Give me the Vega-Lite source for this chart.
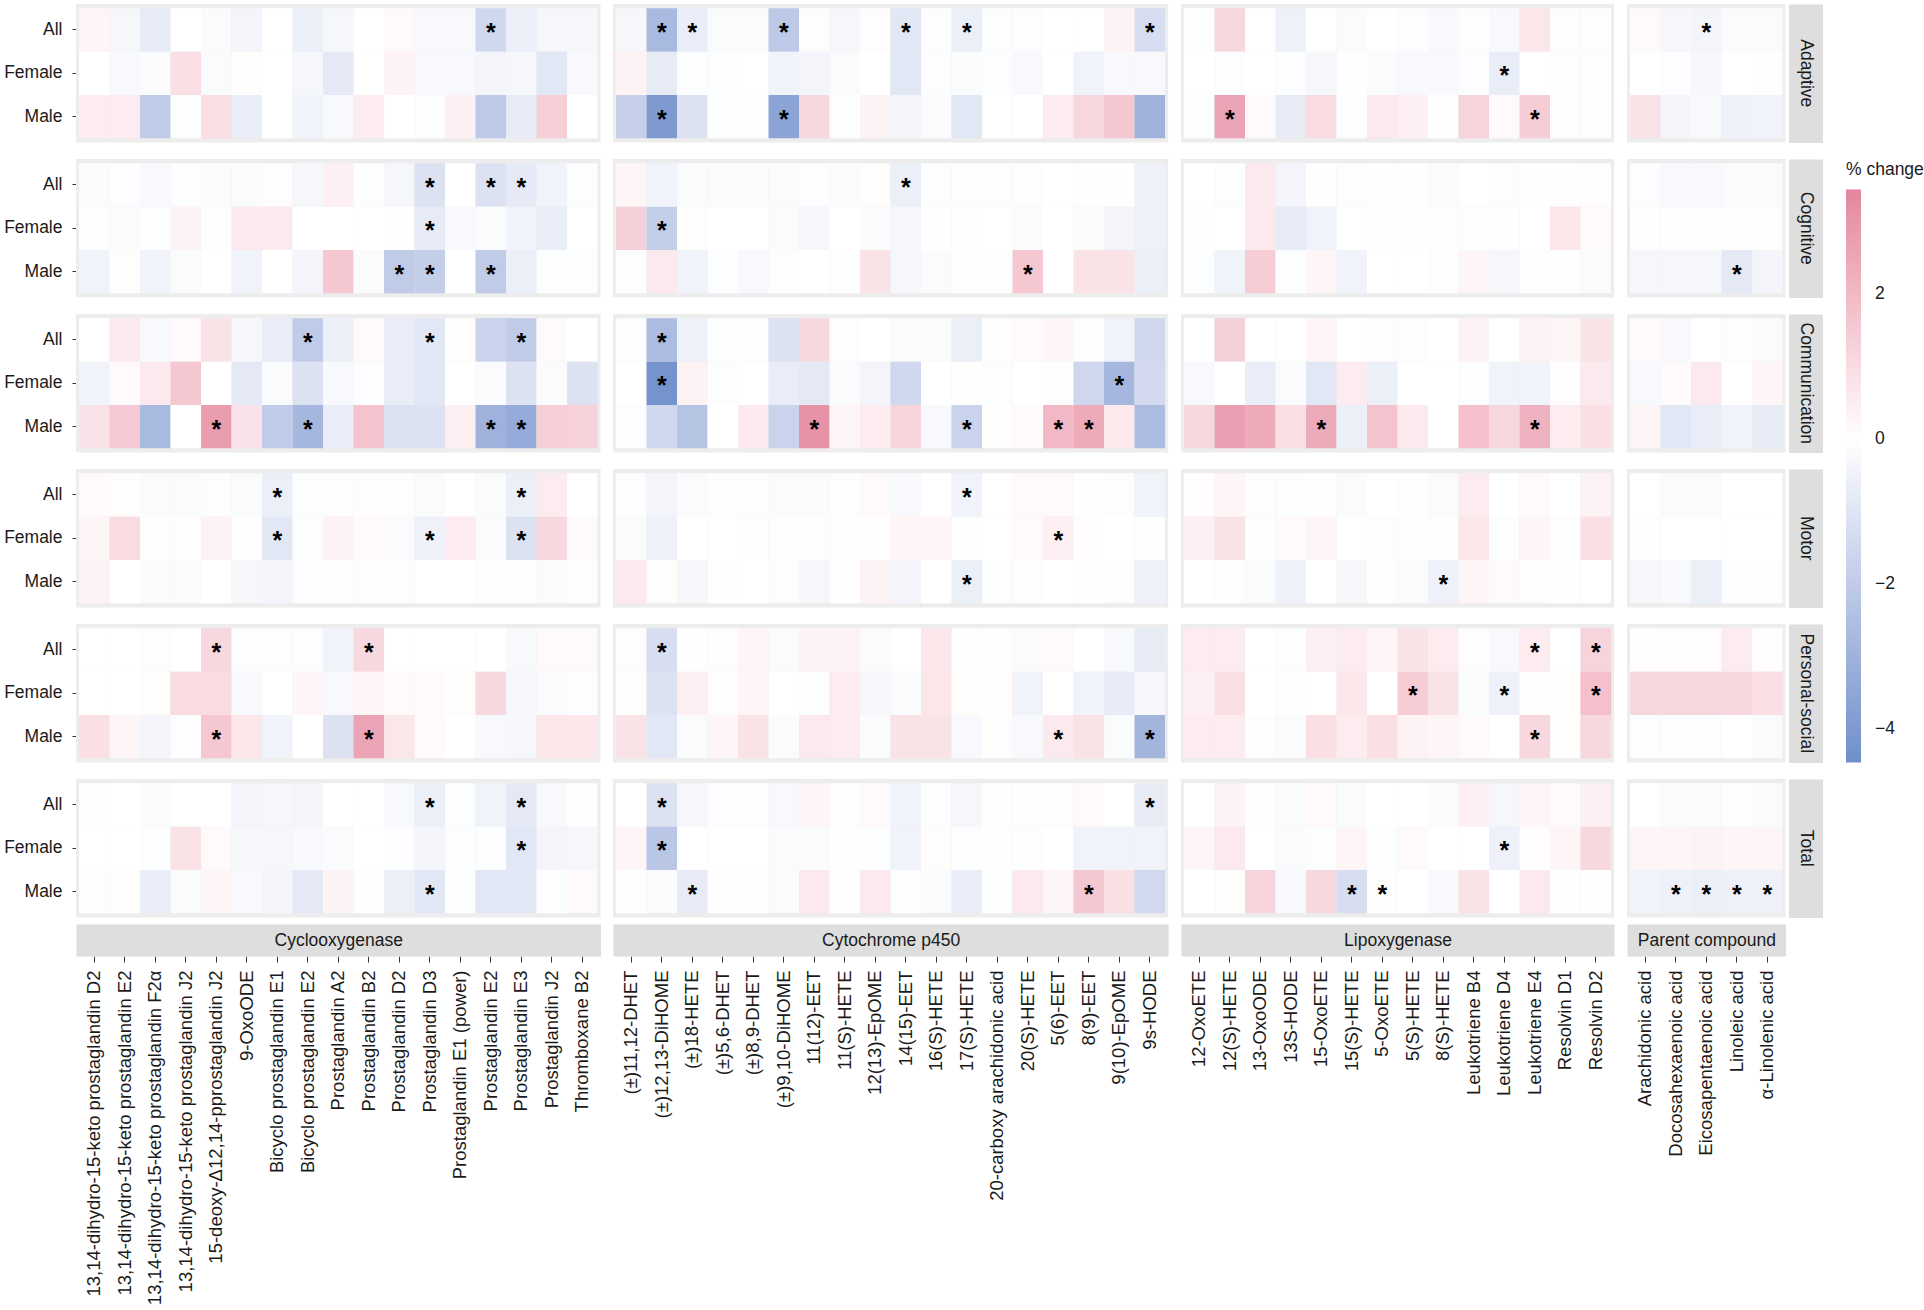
{
"$schema":"https://vega.github.io/schema/vega-lite/v6.json",
"background":"#ffffff",
"padding":{"left":3,"top":4,"right":0,"bottom":0},
"config":{"font":"Liberation Sans","view":{"fill":"#ededed","stroke":null},"axis":{"labelFont":"Liberation Sans","labelColor":"#1a1a1a","titleFont":"Liberation Sans"},"header":{"labelFont":"Liberation Sans","labelColor":"#1a1a1a"},"legend":{"labelFont":"Liberation Sans","titleFont":"Liberation Sans"}},
"datasets":{
"mets":[
{"k":0,"m":"13,14-dihydro-15-keto prostaglandin D2","p":"Cyclooxygenase"},
{"k":1,"m":"13,14-dihydro-15-keto prostaglandin E2","p":"Cyclooxygenase"},
{"k":2,"m":"13,14-dihydro-15-keto prostaglandin F2α","p":"Cyclooxygenase"},
{"k":3,"m":"13,14-dihydro-15-keto prostaglandin J2","p":"Cyclooxygenase"},
{"k":4,"m":"15-deoxy-Δ12,14-pprostaglandin J2","p":"Cyclooxygenase"},
{"k":5,"m":"9-OxoODE","p":"Cyclooxygenase"},
{"k":6,"m":"Bicyclo prostaglandin E1","p":"Cyclooxygenase"},
{"k":7,"m":"Bicyclo prostaglandin E2","p":"Cyclooxygenase"},
{"k":8,"m":"Prostaglandin A2","p":"Cyclooxygenase"},
{"k":9,"m":"Prostaglandin B2","p":"Cyclooxygenase"},
{"k":10,"m":"Prostaglandin D2","p":"Cyclooxygenase"},
{"k":11,"m":"Prostaglandin D3","p":"Cyclooxygenase"},
{"k":12,"m":"Prostaglandin E1 (power)","p":"Cyclooxygenase"},
{"k":13,"m":"Prostaglandin E2","p":"Cyclooxygenase"},
{"k":14,"m":"Prostaglandin E3","p":"Cyclooxygenase"},
{"k":15,"m":"Prostaglandin J2","p":"Cyclooxygenase"},
{"k":16,"m":"Thromboxane B2","p":"Cyclooxygenase"},
{"k":17,"m":"(±)11,12-DHET","p":"Cytochrome p450"},
{"k":18,"m":"(±)12,13-DiHOME","p":"Cytochrome p450"},
{"k":19,"m":"(±)18-HETE","p":"Cytochrome p450"},
{"k":20,"m":"(±)5,6-DHET","p":"Cytochrome p450"},
{"k":21,"m":"(±)8,9-DHET","p":"Cytochrome p450"},
{"k":22,"m":"(±)9,10-DiHOME","p":"Cytochrome p450"},
{"k":23,"m":"11(12)-EET","p":"Cytochrome p450"},
{"k":24,"m":"11(S)-HETE","p":"Cytochrome p450"},
{"k":25,"m":"12(13)-EpOME","p":"Cytochrome p450"},
{"k":26,"m":"14(15)-EET","p":"Cytochrome p450"},
{"k":27,"m":"16(S)-HETE","p":"Cytochrome p450"},
{"k":28,"m":"17(S)-HETE","p":"Cytochrome p450"},
{"k":29,"m":"20-carboxy arachidonic acid","p":"Cytochrome p450"},
{"k":30,"m":"20(S)-HETE","p":"Cytochrome p450"},
{"k":31,"m":"5(6)-EET","p":"Cytochrome p450"},
{"k":32,"m":"8(9)-EET","p":"Cytochrome p450"},
{"k":33,"m":"9(10)-EpOME","p":"Cytochrome p450"},
{"k":34,"m":"9s-HODE","p":"Cytochrome p450"},
{"k":35,"m":"12-OxoETE","p":"Lipoxygenase"},
{"k":36,"m":"12(S)-HETE","p":"Lipoxygenase"},
{"k":37,"m":"13-OxoODE","p":"Lipoxygenase"},
{"k":38,"m":"13S-HODE","p":"Lipoxygenase"},
{"k":39,"m":"15-OxoETE","p":"Lipoxygenase"},
{"k":40,"m":"15(S)-HETE","p":"Lipoxygenase"},
{"k":41,"m":"5-OxoETE","p":"Lipoxygenase"},
{"k":42,"m":"5(S)-HETE","p":"Lipoxygenase"},
{"k":43,"m":"8(S)-HETE","p":"Lipoxygenase"},
{"k":44,"m":"Leukotriene B4","p":"Lipoxygenase"},
{"k":45,"m":"Leukotriene D4","p":"Lipoxygenase"},
{"k":46,"m":"Leukotriene E4","p":"Lipoxygenase"},
{"k":47,"m":"Resolvin D1","p":"Lipoxygenase"},
{"k":48,"m":"Resolvin D2","p":"Lipoxygenase"},
{"k":49,"m":"Arachidonic acid","p":"Parent compound"},
{"k":50,"m":"Docosahexaenoic acid","p":"Parent compound"},
{"k":51,"m":"Eicosapentaenoic acid","p":"Parent compound"},
{"k":52,"m":"Linoleic acid","p":"Parent compound"},
{"k":53,"m":"α-Linolenic acid","p":"Parent compound"}
],
"cells":[
{"d":"Adaptive","s":"All","k":0,"v":0.27},{"d":"Adaptive","s":"All","k":1,"v":-0.31},{"d":"Adaptive","s":"All","k":2,"v":-0.78},{"d":"Adaptive","s":"All","k":3,"v":0},{"d":"Adaptive","s":"All","k":4,"v":-0.16},{"d":"Adaptive","s":"All","k":5,"v":-0.39},{"d":"Adaptive","s":"All","k":6,"v":0},{"d":"Adaptive","s":"All","k":7,"v":-0.62},{"d":"Adaptive","s":"All","k":8,"v":-0.31},{"d":"Adaptive","s":"All","k":9,"v":0},{"d":"Adaptive","s":"All","k":10,"v":0.18},{"d":"Adaptive","s":"All","k":11,"v":-0.23},{"d":"Adaptive","s":"All","k":12,"v":-0.23},{"d":"Adaptive","s":"All","k":13,"v":-1.5,"t":"*"},{"d":"Adaptive","s":"All","k":14,"v":-0.62},{"d":"Adaptive","s":"All","k":15,"v":-0.31},{"d":"Adaptive","s":"All","k":16,"v":-0.31},
{"d":"Adaptive","s":"All","k":17,"v":-0.31},{"d":"Adaptive","s":"All","k":18,"v":-2.7,"t":"*"},{"d":"Adaptive","s":"All","k":19,"v":-0.7,"t":"*"},{"d":"Adaptive","s":"All","k":20,"v":-0.16},{"d":"Adaptive","s":"All","k":21,"v":-0.16},{"d":"Adaptive","s":"All","k":22,"v":-2.1,"t":"*"},{"d":"Adaptive","s":"All","k":23,"v":0.09},{"d":"Adaptive","s":"All","k":24,"v":-0.31},{"d":"Adaptive","s":"All","k":25,"v":0.09},{"d":"Adaptive","s":"All","k":26,"v":-0.93,"t":"*"},{"d":"Adaptive","s":"All","k":27,"v":-0.08},{"d":"Adaptive","s":"All","k":28,"v":-0.62,"t":"*"},{"d":"Adaptive","s":"All","k":29,"v":-0.08},{"d":"Adaptive","s":"All","k":30,"v":-0.08},{"d":"Adaptive","s":"All","k":31,"v":0},{"d":"Adaptive","s":"All","k":32,"v":0},{"d":"Adaptive","s":"All","k":33,"v":0.36},{"d":"Adaptive","s":"All","k":34,"v":-1.25,"t":"*"},
{"d":"Adaptive","s":"All","k":35,"v":-0.03},{"d":"Adaptive","s":"All","k":36,"v":1.1},{"d":"Adaptive","s":"All","k":37,"v":0},{"d":"Adaptive","s":"All","k":38,"v":-0.54},{"d":"Adaptive","s":"All","k":39,"v":0},{"d":"Adaptive","s":"All","k":40,"v":-0.16},{"d":"Adaptive","s":"All","k":41,"v":0},{"d":"Adaptive","s":"All","k":42,"v":-0.08},{"d":"Adaptive","s":"All","k":43,"v":-0.23},{"d":"Adaptive","s":"All","k":44,"v":0.09},{"d":"Adaptive","s":"All","k":45,"v":-0.23},{"d":"Adaptive","s":"All","k":46,"v":0.72},{"d":"Adaptive","s":"All","k":47,"v":0.09},{"d":"Adaptive","s":"All","k":48,"v":0.09},
{"d":"Adaptive","s":"All","k":49,"v":0.18},{"d":"Adaptive","s":"All","k":50,"v":-0.31},{"d":"Adaptive","s":"All","k":51,"v":-0.39,"t":"*"},{"d":"Adaptive","s":"All","k":52,"v":-0.16},{"d":"Adaptive","s":"All","k":53,"v":-0.16},
{"d":"Adaptive","s":"Female","k":0,"v":0},{"d":"Adaptive","s":"Female","k":1,"v":-0.23},{"d":"Adaptive","s":"Female","k":2,"v":-0.16},{"d":"Adaptive","s":"Female","k":3,"v":0.9},{"d":"Adaptive","s":"Female","k":4,"v":-0.16},{"d":"Adaptive","s":"Female","k":5,"v":0.09},{"d":"Adaptive","s":"Female","k":6,"v":0},{"d":"Adaptive","s":"Female","k":7,"v":-0.31},{"d":"Adaptive","s":"Female","k":8,"v":-0.85},{"d":"Adaptive","s":"Female","k":9,"v":0},{"d":"Adaptive","s":"Female","k":10,"v":0.36},{"d":"Adaptive","s":"Female","k":11,"v":-0.23},{"d":"Adaptive","s":"Female","k":12,"v":-0.23},{"d":"Adaptive","s":"Female","k":13,"v":-0.39},{"d":"Adaptive","s":"Female","k":14,"v":-0.31},{"d":"Adaptive","s":"Female","k":15,"v":-0.93},{"d":"Adaptive","s":"Female","k":16,"v":-0.23},
{"d":"Adaptive","s":"Female","k":17,"v":0.36},{"d":"Adaptive","s":"Female","k":18,"v":-0.78},{"d":"Adaptive","s":"Female","k":19,"v":-0.08},{"d":"Adaptive","s":"Female","k":20,"v":-0.08},{"d":"Adaptive","s":"Female","k":21,"v":0},{"d":"Adaptive","s":"Female","k":22,"v":-0.47},{"d":"Adaptive","s":"Female","k":23,"v":-0.39},{"d":"Adaptive","s":"Female","k":24,"v":-0.16},{"d":"Adaptive","s":"Female","k":25,"v":0},{"d":"Adaptive","s":"Female","k":26,"v":-0.93},{"d":"Adaptive","s":"Female","k":27,"v":-0.08},{"d":"Adaptive","s":"Female","k":28,"v":-0.16},{"d":"Adaptive","s":"Female","k":29,"v":-0.08},{"d":"Adaptive","s":"Female","k":30,"v":-0.23},{"d":"Adaptive","s":"Female","k":31,"v":0},{"d":"Adaptive","s":"Female","k":32,"v":-0.47},{"d":"Adaptive","s":"Female","k":33,"v":-0.23},{"d":"Adaptive","s":"Female","k":34,"v":-0.23},
{"d":"Adaptive","s":"Female","k":35,"v":0},{"d":"Adaptive","s":"Female","k":36,"v":-0.08},{"d":"Adaptive","s":"Female","k":37,"v":0},{"d":"Adaptive","s":"Female","k":38,"v":-0.08},{"d":"Adaptive","s":"Female","k":39,"v":-0.31},{"d":"Adaptive","s":"Female","k":40,"v":-0.03},{"d":"Adaptive","s":"Female","k":41,"v":-0.16},{"d":"Adaptive","s":"Female","k":42,"v":-0.23},{"d":"Adaptive","s":"Female","k":43,"v":-0.23},{"d":"Adaptive","s":"Female","k":44,"v":-0.08},{"d":"Adaptive","s":"Female","k":45,"v":-0.7,"t":"*"},{"d":"Adaptive","s":"Female","k":46,"v":0},{"d":"Adaptive","s":"Female","k":47,"v":0.09},{"d":"Adaptive","s":"Female","k":48,"v":0.09},
{"d":"Adaptive","s":"Female","k":49,"v":0},{"d":"Adaptive","s":"Female","k":50,"v":-0.08},{"d":"Adaptive","s":"Female","k":51,"v":-0.31},{"d":"Adaptive","s":"Female","k":52,"v":0},{"d":"Adaptive","s":"Female","k":53,"v":0.09},
{"d":"Adaptive","s":"Male","k":0,"v":0.54},{"d":"Adaptive","s":"Male","k":1,"v":0.54},{"d":"Adaptive","s":"Male","k":2,"v":-2.0},{"d":"Adaptive","s":"Male","k":3,"v":-0.08},{"d":"Adaptive","s":"Male","k":4,"v":0.9},{"d":"Adaptive","s":"Male","k":5,"v":-0.7},{"d":"Adaptive","s":"Male","k":6,"v":0},{"d":"Adaptive","s":"Male","k":7,"v":-0.47},{"d":"Adaptive","s":"Male","k":8,"v":-0.23},{"d":"Adaptive","s":"Male","k":9,"v":0.54},{"d":"Adaptive","s":"Male","k":10,"v":0},{"d":"Adaptive","s":"Male","k":11,"v":-0.08},{"d":"Adaptive","s":"Male","k":12,"v":0.45},{"d":"Adaptive","s":"Male","k":13,"v":-2.1},{"d":"Adaptive","s":"Male","k":14,"v":-0.78},{"d":"Adaptive","s":"Male","k":15,"v":1.4},{"d":"Adaptive","s":"Male","k":16,"v":0},
{"d":"Adaptive","s":"Male","k":17,"v":-1.8},{"d":"Adaptive","s":"Male","k":18,"v":-4.0,"t":"*"},{"d":"Adaptive","s":"Male","k":19,"v":-1.1},{"d":"Adaptive","s":"Male","k":20,"v":-0.08},{"d":"Adaptive","s":"Male","k":21,"v":-0.08},{"d":"Adaptive","s":"Male","k":22,"v":-3.6,"t":"*"},{"d":"Adaptive","s":"Male","k":23,"v":1.1},{"d":"Adaptive","s":"Male","k":24,"v":-0.08},{"d":"Adaptive","s":"Male","k":25,"v":0.36},{"d":"Adaptive","s":"Male","k":26,"v":-0.39},{"d":"Adaptive","s":"Male","k":27,"v":-0.16},{"d":"Adaptive","s":"Male","k":28,"v":-0.93},{"d":"Adaptive","s":"Male","k":29,"v":0},{"d":"Adaptive","s":"Male","k":30,"v":0},{"d":"Adaptive","s":"Male","k":31,"v":0.54},{"d":"Adaptive","s":"Male","k":32,"v":1.1},{"d":"Adaptive","s":"Male","k":33,"v":1.6},{"d":"Adaptive","s":"Male","k":34,"v":-3.0},
{"d":"Adaptive","s":"Male","k":35,"v":-0.08},{"d":"Adaptive","s":"Male","k":36,"v":2.6,"t":"*"},{"d":"Adaptive","s":"Male","k":37,"v":0.18},{"d":"Adaptive","s":"Male","k":38,"v":-0.78},{"d":"Adaptive","s":"Male","k":39,"v":1.0},{"d":"Adaptive","s":"Male","k":40,"v":-0.08},{"d":"Adaptive","s":"Male","k":41,"v":0.63},{"d":"Adaptive","s":"Male","k":42,"v":0.45},{"d":"Adaptive","s":"Male","k":43,"v":-0.03},{"d":"Adaptive","s":"Male","k":44,"v":1.25},{"d":"Adaptive","s":"Male","k":45,"v":0.18},{"d":"Adaptive","s":"Male","k":46,"v":1.45,"t":"*"},{"d":"Adaptive","s":"Male","k":47,"v":0.09},{"d":"Adaptive","s":"Male","k":48,"v":-0.08},
{"d":"Adaptive","s":"Male","k":49,"v":0.81},{"d":"Adaptive","s":"Male","k":50,"v":-0.39},{"d":"Adaptive","s":"Male","k":51,"v":-0.23},{"d":"Adaptive","s":"Male","k":52,"v":-0.54},{"d":"Adaptive","s":"Male","k":53,"v":-0.47},
{"d":"Cognitive","s":"All","k":0,"v":-0.16},{"d":"Cognitive","s":"All","k":1,"v":-0.08},{"d":"Cognitive","s":"All","k":2,"v":-0.23},{"d":"Cognitive","s":"All","k":3,"v":-0.08},{"d":"Cognitive","s":"All","k":4,"v":-0.16},{"d":"Cognitive","s":"All","k":5,"v":-0.16},{"d":"Cognitive","s":"All","k":6,"v":0.09},{"d":"Cognitive","s":"All","k":7,"v":-0.31},{"d":"Cognitive","s":"All","k":8,"v":0.45},{"d":"Cognitive","s":"All","k":9,"v":-0.08},{"d":"Cognitive","s":"All","k":10,"v":-0.31},{"d":"Cognitive","s":"All","k":11,"v":-1.1,"t":"*"},{"d":"Cognitive","s":"All","k":12,"v":0},{"d":"Cognitive","s":"All","k":13,"v":-1.1,"t":"*"},{"d":"Cognitive","s":"All","k":14,"v":-0.8,"t":"*"},{"d":"Cognitive","s":"All","k":15,"v":-0.47},{"d":"Cognitive","s":"All","k":16,"v":-0.08},
{"d":"Cognitive","s":"All","k":17,"v":0.27},{"d":"Cognitive","s":"All","k":18,"v":-0.47},{"d":"Cognitive","s":"All","k":19,"v":-0.16},{"d":"Cognitive","s":"All","k":20,"v":-0.16},{"d":"Cognitive","s":"All","k":21,"v":-0.16},{"d":"Cognitive","s":"All","k":22,"v":-0.16},{"d":"Cognitive","s":"All","k":23,"v":-0.08},{"d":"Cognitive","s":"All","k":24,"v":-0.16},{"d":"Cognitive","s":"All","k":25,"v":0.09},{"d":"Cognitive","s":"All","k":26,"v":-0.62,"t":"*"},{"d":"Cognitive","s":"All","k":27,"v":-0.08},{"d":"Cognitive","s":"All","k":28,"v":-0.08},{"d":"Cognitive","s":"All","k":29,"v":-0.08},{"d":"Cognitive","s":"All","k":30,"v":0.09},{"d":"Cognitive","s":"All","k":31,"v":0},{"d":"Cognitive","s":"All","k":32,"v":0.04},{"d":"Cognitive","s":"All","k":33,"v":0.05},{"d":"Cognitive","s":"All","k":34,"v":-0.54},
{"d":"Cognitive","s":"All","k":35,"v":0},{"d":"Cognitive","s":"All","k":36,"v":-0.08},{"d":"Cognitive","s":"All","k":37,"v":0.63},{"d":"Cognitive","s":"All","k":38,"v":-0.39},{"d":"Cognitive","s":"All","k":39,"v":-0.03},{"d":"Cognitive","s":"All","k":40,"v":-0.08},{"d":"Cognitive","s":"All","k":41,"v":-0.03},{"d":"Cognitive","s":"All","k":42,"v":-0.03},{"d":"Cognitive","s":"All","k":43,"v":-0.16},{"d":"Cognitive","s":"All","k":44,"v":0},{"d":"Cognitive","s":"All","k":45,"v":-0.08},{"d":"Cognitive","s":"All","k":46,"v":-0.03},{"d":"Cognitive","s":"All","k":47,"v":0.05},{"d":"Cognitive","s":"All","k":48,"v":0.09},
{"d":"Cognitive","s":"All","k":49,"v":-0.08},{"d":"Cognitive","s":"All","k":50,"v":-0.23},{"d":"Cognitive","s":"All","k":51,"v":-0.23},{"d":"Cognitive","s":"All","k":52,"v":-0.16},{"d":"Cognitive","s":"All","k":53,"v":-0.16},
{"d":"Cognitive","s":"Female","k":0,"v":-0.08},{"d":"Cognitive","s":"Female","k":1,"v":-0.16},{"d":"Cognitive","s":"Female","k":2,"v":-0.08},{"d":"Cognitive","s":"Female","k":3,"v":0.36},{"d":"Cognitive","s":"Female","k":4,"v":-0.08},{"d":"Cognitive","s":"Female","k":5,"v":0.63},{"d":"Cognitive","s":"Female","k":6,"v":0.63},{"d":"Cognitive","s":"Female","k":7,"v":0},{"d":"Cognitive","s":"Female","k":8,"v":0},{"d":"Cognitive","s":"Female","k":9,"v":0},{"d":"Cognitive","s":"Female","k":10,"v":0.09},{"d":"Cognitive","s":"Female","k":11,"v":-0.78,"t":"*"},{"d":"Cognitive","s":"Female","k":12,"v":-0.23},{"d":"Cognitive","s":"Female","k":13,"v":-0.16},{"d":"Cognitive","s":"Female","k":14,"v":-0.47},{"d":"Cognitive","s":"Female","k":15,"v":-0.7},{"d":"Cognitive","s":"Female","k":16,"v":0},
{"d":"Cognitive","s":"Female","k":17,"v":1.35},{"d":"Cognitive","s":"Female","k":18,"v":-1.9,"t":"*"},{"d":"Cognitive","s":"Female","k":19,"v":0.09},{"d":"Cognitive","s":"Female","k":20,"v":0},{"d":"Cognitive","s":"Female","k":21,"v":0},{"d":"Cognitive","s":"Female","k":22,"v":-0.16},{"d":"Cognitive","s":"Female","k":23,"v":-0.31},{"d":"Cognitive","s":"Female","k":24,"v":0},{"d":"Cognitive","s":"Female","k":25,"v":-0.16},{"d":"Cognitive","s":"Female","k":26,"v":-0.31},{"d":"Cognitive","s":"Female","k":27,"v":0.05},{"d":"Cognitive","s":"Female","k":28,"v":-0.03},{"d":"Cognitive","s":"Female","k":29,"v":0},{"d":"Cognitive","s":"Female","k":30,"v":-0.16},{"d":"Cognitive","s":"Female","k":31,"v":0},{"d":"Cognitive","s":"Female","k":32,"v":-0.16},{"d":"Cognitive","s":"Female","k":33,"v":-0.39},{"d":"Cognitive","s":"Female","k":34,"v":-0.54},
{"d":"Cognitive","s":"Female","k":35,"v":0.05},{"d":"Cognitive","s":"Female","k":36,"v":0},{"d":"Cognitive","s":"Female","k":37,"v":0.63},{"d":"Cognitive","s":"Female","k":38,"v":-0.78},{"d":"Cognitive","s":"Female","k":39,"v":-0.47},{"d":"Cognitive","s":"Female","k":40,"v":0},{"d":"Cognitive","s":"Female","k":41,"v":-0.05},{"d":"Cognitive","s":"Female","k":42,"v":-0.05},{"d":"Cognitive","s":"Female","k":43,"v":-0.05},{"d":"Cognitive","s":"Female","k":44,"v":-0.08},{"d":"Cognitive","s":"Female","k":45,"v":-0.05},{"d":"Cognitive","s":"Female","k":46,"v":0},{"d":"Cognitive","s":"Female","k":47,"v":0.72},{"d":"Cognitive","s":"Female","k":48,"v":0.18},
{"d":"Cognitive","s":"Female","k":49,"v":-0.05},{"d":"Cognitive","s":"Female","k":50,"v":0.05},{"d":"Cognitive","s":"Female","k":51,"v":0.05},{"d":"Cognitive","s":"Female","k":52,"v":0.05},{"d":"Cognitive","s":"Female","k":53,"v":0.09},
{"d":"Cognitive","s":"Male","k":0,"v":-0.47},{"d":"Cognitive","s":"Male","k":1,"v":0.09},{"d":"Cognitive","s":"Male","k":2,"v":-0.47},{"d":"Cognitive","s":"Male","k":3,"v":-0.16},{"d":"Cognitive","s":"Male","k":4,"v":0},{"d":"Cognitive","s":"Male","k":5,"v":-0.47},{"d":"Cognitive","s":"Male","k":6,"v":0},{"d":"Cognitive","s":"Male","k":7,"v":-0.39},{"d":"Cognitive","s":"Male","k":8,"v":1.6},{"d":"Cognitive","s":"Male","k":9,"v":-0.16},{"d":"Cognitive","s":"Male","k":10,"v":-2.0,"t":"*"},{"d":"Cognitive","s":"Male","k":11,"v":-1.9,"t":"*"},{"d":"Cognitive","s":"Male","k":12,"v":0},{"d":"Cognitive","s":"Male","k":13,"v":-2.0,"t":"*"},{"d":"Cognitive","s":"Male","k":14,"v":-0.62},{"d":"Cognitive","s":"Male","k":15,"v":-0.08},{"d":"Cognitive","s":"Male","k":16,"v":-0.08},
{"d":"Cognitive","s":"Male","k":17,"v":-0.08},{"d":"Cognitive","s":"Male","k":18,"v":0.63},{"d":"Cognitive","s":"Male","k":19,"v":-0.47},{"d":"Cognitive","s":"Male","k":20,"v":-0.08},{"d":"Cognitive","s":"Male","k":21,"v":-0.23},{"d":"Cognitive","s":"Male","k":22,"v":-0.08},{"d":"Cognitive","s":"Male","k":23,"v":0},{"d":"Cognitive","s":"Male","k":24,"v":-0.08},{"d":"Cognitive","s":"Male","k":25,"v":0.81},{"d":"Cognitive","s":"Male","k":26,"v":-0.31},{"d":"Cognitive","s":"Male","k":27,"v":-0.16},{"d":"Cognitive","s":"Male","k":28,"v":-0.08},{"d":"Cognitive","s":"Male","k":29,"v":-0.08},{"d":"Cognitive","s":"Male","k":30,"v":1.6,"t":"*"},{"d":"Cognitive","s":"Male","k":31,"v":0},{"d":"Cognitive","s":"Male","k":32,"v":0.81},{"d":"Cognitive","s":"Male","k":33,"v":0.81},{"d":"Cognitive","s":"Male","k":34,"v":-0.62},
{"d":"Cognitive","s":"Male","k":35,"v":-0.08},{"d":"Cognitive","s":"Male","k":36,"v":-0.47},{"d":"Cognitive","s":"Male","k":37,"v":1.45},{"d":"Cognitive","s":"Male","k":38,"v":-0.08},{"d":"Cognitive","s":"Male","k":39,"v":0.27},{"d":"Cognitive","s":"Male","k":40,"v":-0.47},{"d":"Cognitive","s":"Male","k":41,"v":0},{"d":"Cognitive","s":"Male","k":42,"v":0},{"d":"Cognitive","s":"Male","k":43,"v":-0.08},{"d":"Cognitive","s":"Male","k":44,"v":0.27},{"d":"Cognitive","s":"Male","k":45,"v":-0.31},{"d":"Cognitive","s":"Male","k":46,"v":-0.08},{"d":"Cognitive","s":"Male","k":47,"v":-0.05},{"d":"Cognitive","s":"Male","k":48,"v":-0.16},
{"d":"Cognitive","s":"Male","k":49,"v":-0.31},{"d":"Cognitive","s":"Male","k":50,"v":-0.31},{"d":"Cognitive","s":"Male","k":51,"v":-0.31},{"d":"Cognitive","s":"Male","k":52,"v":-0.85,"t":"*"},{"d":"Cognitive","s":"Male","k":53,"v":-0.39},
{"d":"Communication","s":"All","k":0,"v":0},{"d":"Communication","s":"All","k":1,"v":0.63},{"d":"Communication","s":"All","k":2,"v":-0.23},{"d":"Communication","s":"All","k":3,"v":0.18},{"d":"Communication","s":"All","k":4,"v":0.81},{"d":"Communication","s":"All","k":5,"v":-0.31},{"d":"Communication","s":"All","k":6,"v":-0.7},{"d":"Communication","s":"All","k":7,"v":-2.0,"t":"*"},{"d":"Communication","s":"All","k":8,"v":-0.62},{"d":"Communication","s":"All","k":9,"v":0.18},{"d":"Communication","s":"All","k":10,"v":-0.7},{"d":"Communication","s":"All","k":11,"v":-0.93,"t":"*"},{"d":"Communication","s":"All","k":12,"v":0.09},{"d":"Communication","s":"All","k":13,"v":-1.7},{"d":"Communication","s":"All","k":14,"v":-2.0,"t":"*"},{"d":"Communication","s":"All","k":15,"v":0.18},{"d":"Communication","s":"All","k":16,"v":0},
{"d":"Communication","s":"All","k":17,"v":-0.08},{"d":"Communication","s":"All","k":18,"v":-2.6,"t":"*"},{"d":"Communication","s":"All","k":19,"v":-0.54},{"d":"Communication","s":"All","k":20,"v":-0.08},{"d":"Communication","s":"All","k":21,"v":-0.03},{"d":"Communication","s":"All","k":22,"v":-1.1},{"d":"Communication","s":"All","k":23,"v":1.1},{"d":"Communication","s":"All","k":24,"v":-0.08},{"d":"Communication","s":"All","k":25,"v":0},{"d":"Communication","s":"All","k":26,"v":-0.16},{"d":"Communication","s":"All","k":27,"v":-0.16},{"d":"Communication","s":"All","k":28,"v":-0.62},{"d":"Communication","s":"All","k":29,"v":-0.03},{"d":"Communication","s":"All","k":30,"v":0.18},{"d":"Communication","s":"All","k":31,"v":0.27},{"d":"Communication","s":"All","k":32,"v":0.04},{"d":"Communication","s":"All","k":33,"v":-0.47},{"d":"Communication","s":"All","k":34,"v":-1.55},
{"d":"Communication","s":"All","k":35,"v":0},{"d":"Communication","s":"All","k":36,"v":1.35},{"d":"Communication","s":"All","k":37,"v":0},{"d":"Communication","s":"All","k":38,"v":0},{"d":"Communication","s":"All","k":39,"v":0.27},{"d":"Communication","s":"All","k":40,"v":0},{"d":"Communication","s":"All","k":41,"v":0.09},{"d":"Communication","s":"All","k":42,"v":0.09},{"d":"Communication","s":"All","k":43,"v":0},{"d":"Communication","s":"All","k":44,"v":0.36},{"d":"Communication","s":"All","k":45,"v":0},{"d":"Communication","s":"All","k":46,"v":0.36},{"d":"Communication","s":"All","k":47,"v":0.27},{"d":"Communication","s":"All","k":48,"v":0.81},
{"d":"Communication","s":"All","k":49,"v":0.18},{"d":"Communication","s":"All","k":50,"v":-0.23},{"d":"Communication","s":"All","k":51,"v":0},{"d":"Communication","s":"All","k":52,"v":-0.08},{"d":"Communication","s":"All","k":53,"v":-0.16},
{"d":"Communication","s":"Female","k":0,"v":-0.47},{"d":"Communication","s":"Female","k":1,"v":0.18},{"d":"Communication","s":"Female","k":2,"v":0.63},{"d":"Communication","s":"Female","k":3,"v":1.6},{"d":"Communication","s":"Female","k":4,"v":0},{"d":"Communication","s":"Female","k":5,"v":-0.85},{"d":"Communication","s":"Female","k":6,"v":-0.16},{"d":"Communication","s":"Female","k":7,"v":-1.1},{"d":"Communication","s":"Female","k":8,"v":-0.23},{"d":"Communication","s":"Female","k":9,"v":-0.08},{"d":"Communication","s":"Female","k":10,"v":-0.7},{"d":"Communication","s":"Female","k":11,"v":-0.93},{"d":"Communication","s":"Female","k":12,"v":0},{"d":"Communication","s":"Female","k":13,"v":-0.16},{"d":"Communication","s":"Female","k":14,"v":-1.1},{"d":"Communication","s":"Female","k":15,"v":-0.16},{"d":"Communication","s":"Female","k":16,"v":-1.1},
{"d":"Communication","s":"Female","k":17,"v":0},{"d":"Communication","s":"Female","k":18,"v":-4.3,"t":"*"},{"d":"Communication","s":"Female","k":19,"v":0.36},{"d":"Communication","s":"Female","k":20,"v":-0.08},{"d":"Communication","s":"Female","k":21,"v":0},{"d":"Communication","s":"Female","k":22,"v":-0.7},{"d":"Communication","s":"Female","k":23,"v":-0.85},{"d":"Communication","s":"Female","k":24,"v":-0.16},{"d":"Communication","s":"Female","k":25,"v":-0.39},{"d":"Communication","s":"Female","k":26,"v":-1.5},{"d":"Communication","s":"Female","k":27,"v":0},{"d":"Communication","s":"Female","k":28,"v":0.05},{"d":"Communication","s":"Female","k":29,"v":-0.08},{"d":"Communication","s":"Female","k":30,"v":0},{"d":"Communication","s":"Female","k":31,"v":-0.03},{"d":"Communication","s":"Female","k":32,"v":-1.55},{"d":"Communication","s":"Female","k":33,"v":-2.8,"t":"*"},{"d":"Communication","s":"Female","k":34,"v":-1.4},
{"d":"Communication","s":"Female","k":35,"v":-0.23},{"d":"Communication","s":"Female","k":36,"v":0},{"d":"Communication","s":"Female","k":37,"v":-0.7},{"d":"Communication","s":"Female","k":38,"v":-0.16},{"d":"Communication","s":"Female","k":39,"v":-0.93},{"d":"Communication","s":"Female","k":40,"v":0.54},{"d":"Communication","s":"Female","k":41,"v":-0.62},{"d":"Communication","s":"Female","k":42,"v":0},{"d":"Communication","s":"Female","k":43,"v":0},{"d":"Communication","s":"Female","k":44,"v":-0.08},{"d":"Communication","s":"Female","k":45,"v":-0.47},{"d":"Communication","s":"Female","k":46,"v":-0.47},{"d":"Communication","s":"Female","k":47,"v":0.09},{"d":"Communication","s":"Female","k":48,"v":0.63},
{"d":"Communication","s":"Female","k":49,"v":-0.23},{"d":"Communication","s":"Female","k":50,"v":0.18},{"d":"Communication","s":"Female","k":51,"v":0.63},{"d":"Communication","s":"Female","k":52,"v":0},{"d":"Communication","s":"Female","k":53,"v":0.27},
{"d":"Communication","s":"Male","k":0,"v":0.8},{"d":"Communication","s":"Male","k":1,"v":1.5},{"d":"Communication","s":"Male","k":2,"v":-2.7},{"d":"Communication","s":"Male","k":3,"v":0},{"d":"Communication","s":"Male","k":4,"v":2.8,"t":"*"},{"d":"Communication","s":"Male","k":5,"v":0.8},{"d":"Communication","s":"Male","k":6,"v":-2.0},{"d":"Communication","s":"Male","k":7,"v":-2.8,"t":"*"},{"d":"Communication","s":"Male","k":8,"v":-0.7},{"d":"Communication","s":"Male","k":9,"v":1.7},{"d":"Communication","s":"Male","k":10,"v":-1.1},{"d":"Communication","s":"Male","k":11,"v":-1.1},{"d":"Communication","s":"Male","k":12,"v":0.45},{"d":"Communication","s":"Male","k":13,"v":-3.0,"t":"*"},{"d":"Communication","s":"Male","k":14,"v":-3.3,"t":"*"},{"d":"Communication","s":"Male","k":15,"v":1.4},{"d":"Communication","s":"Male","k":16,"v":1.3},
{"d":"Communication","s":"Male","k":17,"v":-0.08},{"d":"Communication","s":"Male","k":18,"v":-1.55},{"d":"Communication","s":"Male","k":19,"v":-2.3},{"d":"Communication","s":"Male","k":20,"v":0},{"d":"Communication","s":"Male","k":21,"v":0.63},{"d":"Communication","s":"Male","k":22,"v":-1.7},{"d":"Communication","s":"Male","k":23,"v":3.1,"t":"*"},{"d":"Communication","s":"Male","k":24,"v":0.27},{"d":"Communication","s":"Male","k":25,"v":0.54},{"d":"Communication","s":"Male","k":26,"v":1.2},{"d":"Communication","s":"Male","k":27,"v":-0.23},{"d":"Communication","s":"Male","k":28,"v":-1.7,"t":"*"},{"d":"Communication","s":"Male","k":29,"v":-0.03},{"d":"Communication","s":"Male","k":30,"v":0.18},{"d":"Communication","s":"Male","k":31,"v":2.0,"t":"*"},{"d":"Communication","s":"Male","k":32,"v":2.4,"t":"*"},{"d":"Communication","s":"Male","k":33,"v":0.63},{"d":"Communication","s":"Male","k":34,"v":-2.6},
{"d":"Communication","s":"Male","k":35,"v":1.1},{"d":"Communication","s":"Male","k":36,"v":2.7},{"d":"Communication","s":"Male","k":37,"v":2.4},{"d":"Communication","s":"Male","k":38,"v":0.9},{"d":"Communication","s":"Male","k":39,"v":2.4,"t":"*"},{"d":"Communication","s":"Male","k":40,"v":-0.62},{"d":"Communication","s":"Male","k":41,"v":1.7},{"d":"Communication","s":"Male","k":42,"v":0.63},{"d":"Communication","s":"Male","k":43,"v":0},{"d":"Communication","s":"Male","k":44,"v":1.8},{"d":"Communication","s":"Male","k":45,"v":1.1},{"d":"Communication","s":"Male","k":46,"v":2.2,"t":"*"},{"d":"Communication","s":"Male","k":47,"v":0.54},{"d":"Communication","s":"Male","k":48,"v":0.9},
{"d":"Communication","s":"Male","k":49,"v":0.27},{"d":"Communication","s":"Male","k":50,"v":-0.93},{"d":"Communication","s":"Male","k":51,"v":-0.7},{"d":"Communication","s":"Male","k":52,"v":-0.47},{"d":"Communication","s":"Male","k":53,"v":-0.78},
{"d":"Motor","s":"All","k":0,"v":0.18},{"d":"Motor","s":"All","k":1,"v":0.09},{"d":"Motor","s":"All","k":2,"v":-0.16},{"d":"Motor","s":"All","k":3,"v":-0.16},{"d":"Motor","s":"All","k":4,"v":-0.08},{"d":"Motor","s":"All","k":5,"v":-0.16},{"d":"Motor","s":"All","k":6,"v":-0.62,"t":"*"},{"d":"Motor","s":"All","k":7,"v":-0.08},{"d":"Motor","s":"All","k":8,"v":0.09},{"d":"Motor","s":"All","k":9,"v":0.09},{"d":"Motor","s":"All","k":10,"v":-0.08},{"d":"Motor","s":"All","k":11,"v":-0.16},{"d":"Motor","s":"All","k":12,"v":0},{"d":"Motor","s":"All","k":13,"v":-0.16},{"d":"Motor","s":"All","k":14,"v":-0.62,"t":"*"},{"d":"Motor","s":"All","k":15,"v":0.54},{"d":"Motor","s":"All","k":16,"v":0},
{"d":"Motor","s":"All","k":17,"v":-0.08},{"d":"Motor","s":"All","k":18,"v":-0.39},{"d":"Motor","s":"All","k":19,"v":-0.16},{"d":"Motor","s":"All","k":20,"v":-0.08},{"d":"Motor","s":"All","k":21,"v":-0.08},{"d":"Motor","s":"All","k":22,"v":-0.16},{"d":"Motor","s":"All","k":23,"v":-0.16},{"d":"Motor","s":"All","k":24,"v":-0.08},{"d":"Motor","s":"All","k":25,"v":0.18},{"d":"Motor","s":"All","k":26,"v":-0.23},{"d":"Motor","s":"All","k":27,"v":0},{"d":"Motor","s":"All","k":28,"v":-0.47,"t":"*"},{"d":"Motor","s":"All","k":29,"v":0},{"d":"Motor","s":"All","k":30,"v":0.18},{"d":"Motor","s":"All","k":31,"v":0.18},{"d":"Motor","s":"All","k":32,"v":0.04},{"d":"Motor","s":"All","k":33,"v":0.09},{"d":"Motor","s":"All","k":34,"v":-0.47},
{"d":"Motor","s":"All","k":35,"v":0.05},{"d":"Motor","s":"All","k":36,"v":0.27},{"d":"Motor","s":"All","k":37,"v":-0.08},{"d":"Motor","s":"All","k":38,"v":-0.08},{"d":"Motor","s":"All","k":39,"v":0.05},{"d":"Motor","s":"All","k":40,"v":-0.16},{"d":"Motor","s":"All","k":41,"v":0},{"d":"Motor","s":"All","k":42,"v":-0.03},{"d":"Motor","s":"All","k":43,"v":-0.16},{"d":"Motor","s":"All","k":44,"v":0.54},{"d":"Motor","s":"All","k":45,"v":0},{"d":"Motor","s":"All","k":46,"v":0.18},{"d":"Motor","s":"All","k":47,"v":0},{"d":"Motor","s":"All","k":48,"v":0.36},
{"d":"Motor","s":"All","k":49,"v":0},{"d":"Motor","s":"All","k":50,"v":-0.16},{"d":"Motor","s":"All","k":51,"v":-0.16},{"d":"Motor","s":"All","k":52,"v":0},{"d":"Motor","s":"All","k":53,"v":0},
{"d":"Motor","s":"Female","k":0,"v":0.27},{"d":"Motor","s":"Female","k":1,"v":1.0},{"d":"Motor","s":"Female","k":2,"v":-0.08},{"d":"Motor","s":"Female","k":3,"v":0.09},{"d":"Motor","s":"Female","k":4,"v":0.36},{"d":"Motor","s":"Female","k":5,"v":-0.08},{"d":"Motor","s":"Female","k":6,"v":-0.93,"t":"*"},{"d":"Motor","s":"Female","k":7,"v":-0.08},{"d":"Motor","s":"Female","k":8,"v":0.36},{"d":"Motor","s":"Female","k":9,"v":0.18},{"d":"Motor","s":"Female","k":10,"v":-0.16},{"d":"Motor","s":"Female","k":11,"v":-0.54,"t":"*"},{"d":"Motor","s":"Female","k":12,"v":0.54},{"d":"Motor","s":"Female","k":13,"v":-0.16},{"d":"Motor","s":"Female","k":14,"v":-1.1,"t":"*"},{"d":"Motor","s":"Female","k":15,"v":1.1},{"d":"Motor","s":"Female","k":16,"v":0.18},
{"d":"Motor","s":"Female","k":17,"v":-0.16},{"d":"Motor","s":"Female","k":18,"v":-0.54},{"d":"Motor","s":"Female","k":19,"v":0},{"d":"Motor","s":"Female","k":20,"v":0},{"d":"Motor","s":"Female","k":21,"v":0.09},{"d":"Motor","s":"Female","k":22,"v":-0.08},{"d":"Motor","s":"Female","k":23,"v":0.09},{"d":"Motor","s":"Female","k":24,"v":0.04},{"d":"Motor","s":"Female","k":25,"v":0.04},{"d":"Motor","s":"Female","k":26,"v":0.27},{"d":"Motor","s":"Female","k":27,"v":0.27},{"d":"Motor","s":"Female","k":28,"v":-0.08},{"d":"Motor","s":"Female","k":29,"v":0},{"d":"Motor","s":"Female","k":30,"v":0.18},{"d":"Motor","s":"Female","k":31,"v":0.45,"t":"*"},{"d":"Motor","s":"Female","k":32,"v":0.09},{"d":"Motor","s":"Female","k":33,"v":0},{"d":"Motor","s":"Female","k":34,"v":-0.05},
{"d":"Motor","s":"Female","k":35,"v":0.45},{"d":"Motor","s":"Female","k":36,"v":0.81},{"d":"Motor","s":"Female","k":37,"v":-0.08},{"d":"Motor","s":"Female","k":38,"v":0.18},{"d":"Motor","s":"Female","k":39,"v":0.27},{"d":"Motor","s":"Female","k":40,"v":0},{"d":"Motor","s":"Female","k":41,"v":0.09},{"d":"Motor","s":"Female","k":42,"v":0.09},{"d":"Motor","s":"Female","k":43,"v":0.09},{"d":"Motor","s":"Female","k":44,"v":0.72},{"d":"Motor","s":"Female","k":45,"v":-0.08},{"d":"Motor","s":"Female","k":46,"v":0.27},{"d":"Motor","s":"Female","k":47,"v":-0.08},{"d":"Motor","s":"Female","k":48,"v":0.9},
{"d":"Motor","s":"Female","k":49,"v":0.04},{"d":"Motor","s":"Female","k":50,"v":0},{"d":"Motor","s":"Female","k":51,"v":0},{"d":"Motor","s":"Female","k":52,"v":0},{"d":"Motor","s":"Female","k":53,"v":0},
{"d":"Motor","s":"Male","k":0,"v":0.36},{"d":"Motor","s":"Male","k":1,"v":0},{"d":"Motor","s":"Male","k":2,"v":-0.16},{"d":"Motor","s":"Male","k":3,"v":-0.16},{"d":"Motor","s":"Male","k":4,"v":0},{"d":"Motor","s":"Male","k":5,"v":-0.31},{"d":"Motor","s":"Male","k":6,"v":-0.39},{"d":"Motor","s":"Male","k":7,"v":-0.08},{"d":"Motor","s":"Male","k":8,"v":-0.08},{"d":"Motor","s":"Male","k":9,"v":-0.08},{"d":"Motor","s":"Male","k":10,"v":-0.08},{"d":"Motor","s":"Male","k":11,"v":0},{"d":"Motor","s":"Male","k":12,"v":0},{"d":"Motor","s":"Male","k":13,"v":-0.08},{"d":"Motor","s":"Male","k":14,"v":-0.08},{"d":"Motor","s":"Male","k":15,"v":-0.16},{"d":"Motor","s":"Male","k":16,"v":-0.08},
{"d":"Motor","s":"Male","k":17,"v":0.63},{"d":"Motor","s":"Male","k":18,"v":0.09},{"d":"Motor","s":"Male","k":19,"v":-0.31},{"d":"Motor","s":"Male","k":20,"v":-0.03},{"d":"Motor","s":"Male","k":21,"v":0},{"d":"Motor","s":"Male","k":22,"v":0.09},{"d":"Motor","s":"Male","k":23,"v":-0.31},{"d":"Motor","s":"Male","k":24,"v":-0.03},{"d":"Motor","s":"Male","k":25,"v":0.36},{"d":"Motor","s":"Male","k":26,"v":-0.39},{"d":"Motor","s":"Male","k":27,"v":0},{"d":"Motor","s":"Male","k":28,"v":-0.62,"t":"*"},{"d":"Motor","s":"Male","k":29,"v":-0.08},{"d":"Motor","s":"Male","k":30,"v":-0.08},{"d":"Motor","s":"Male","k":31,"v":0},{"d":"Motor","s":"Male","k":32,"v":-0.03},{"d":"Motor","s":"Male","k":33,"v":0.09},{"d":"Motor","s":"Male","k":34,"v":-0.54},
{"d":"Motor","s":"Male","k":35,"v":0},{"d":"Motor","s":"Male","k":36,"v":-0.05},{"d":"Motor","s":"Male","k":37,"v":-0.16},{"d":"Motor","s":"Male","k":38,"v":-0.54},{"d":"Motor","s":"Male","k":39,"v":0},{"d":"Motor","s":"Male","k":40,"v":-0.31},{"d":"Motor","s":"Male","k":41,"v":-0.05},{"d":"Motor","s":"Male","k":42,"v":-0.16},{"d":"Motor","s":"Male","k":43,"v":-0.54,"t":"*"},{"d":"Motor","s":"Male","k":44,"v":0.27},{"d":"Motor","s":"Male","k":45,"v":0.18},{"d":"Motor","s":"Male","k":46,"v":0.09},{"d":"Motor","s":"Male","k":47,"v":0.05},{"d":"Motor","s":"Male","k":48,"v":0},
{"d":"Motor","s":"Male","k":49,"v":-0.31},{"d":"Motor","s":"Male","k":50,"v":-0.23},{"d":"Motor","s":"Male","k":51,"v":-0.62},{"d":"Motor","s":"Male","k":52,"v":-0.08},{"d":"Motor","s":"Male","k":53,"v":-0.08},
{"d":"Personal-social","s":"All","k":0,"v":0},{"d":"Personal-social","s":"All","k":1,"v":0},{"d":"Personal-social","s":"All","k":2,"v":-0.08},{"d":"Personal-social","s":"All","k":3,"v":0},{"d":"Personal-social","s":"All","k":4,"v":1.1,"t":"*"},{"d":"Personal-social","s":"All","k":5,"v":-0.08},{"d":"Personal-social","s":"All","k":6,"v":-0.08},{"d":"Personal-social","s":"All","k":7,"v":-0.08},{"d":"Personal-social","s":"All","k":8,"v":-0.47},{"d":"Personal-social","s":"All","k":9,"v":1.1,"t":"*"},{"d":"Personal-social","s":"All","k":10,"v":0},{"d":"Personal-social","s":"All","k":11,"v":0},{"d":"Personal-social","s":"All","k":12,"v":0},{"d":"Personal-social","s":"All","k":13,"v":0},{"d":"Personal-social","s":"All","k":14,"v":-0.23},{"d":"Personal-social","s":"All","k":15,"v":0.18},{"d":"Personal-social","s":"All","k":16,"v":0.18},
{"d":"Personal-social","s":"All","k":17,"v":0.09},{"d":"Personal-social","s":"All","k":18,"v":-1.25,"t":"*"},{"d":"Personal-social","s":"All","k":19,"v":0.04},{"d":"Personal-social","s":"All","k":20,"v":0.09},{"d":"Personal-social","s":"All","k":21,"v":0.27},{"d":"Personal-social","s":"All","k":22,"v":-0.16},{"d":"Personal-social","s":"All","k":23,"v":0.36},{"d":"Personal-social","s":"All","k":24,"v":0.36},{"d":"Personal-social","s":"All","k":25,"v":-0.16},{"d":"Personal-social","s":"All","k":26,"v":0},{"d":"Personal-social","s":"All","k":27,"v":0.72},{"d":"Personal-social","s":"All","k":28,"v":0.04},{"d":"Personal-social","s":"All","k":29,"v":0.04},{"d":"Personal-social","s":"All","k":30,"v":-0.16},{"d":"Personal-social","s":"All","k":31,"v":0.18},{"d":"Personal-social","s":"All","k":32,"v":0},{"d":"Personal-social","s":"All","k":33,"v":-0.23},{"d":"Personal-social","s":"All","k":34,"v":-0.78},
{"d":"Personal-social","s":"All","k":35,"v":0.54},{"d":"Personal-social","s":"All","k":36,"v":0.54},{"d":"Personal-social","s":"All","k":37,"v":0},{"d":"Personal-social","s":"All","k":38,"v":-0.08},{"d":"Personal-social","s":"All","k":39,"v":0.45},{"d":"Personal-social","s":"All","k":40,"v":0.54},{"d":"Personal-social","s":"All","k":41,"v":0.27},{"d":"Personal-social","s":"All","k":42,"v":0.81},{"d":"Personal-social","s":"All","k":43,"v":0.54},{"d":"Personal-social","s":"All","k":44,"v":0.09},{"d":"Personal-social","s":"All","k":45,"v":-0.23},{"d":"Personal-social","s":"All","k":46,"v":0.54,"t":"*"},{"d":"Personal-social","s":"All","k":47,"v":0},{"d":"Personal-social","s":"All","k":48,"v":1.25,"t":"*"},
{"d":"Personal-social","s":"All","k":49,"v":0.05},{"d":"Personal-social","s":"All","k":50,"v":0.09},{"d":"Personal-social","s":"All","k":51,"v":0.09},{"d":"Personal-social","s":"All","k":52,"v":0.54},{"d":"Personal-social","s":"All","k":53,"v":0.05},
{"d":"Personal-social","s":"Female","k":0,"v":0},{"d":"Personal-social","s":"Female","k":1,"v":0},{"d":"Personal-social","s":"Female","k":2,"v":0.09},{"d":"Personal-social","s":"Female","k":3,"v":1.0},{"d":"Personal-social","s":"Female","k":4,"v":1.0},{"d":"Personal-social","s":"Female","k":5,"v":-0.23},{"d":"Personal-social","s":"Female","k":6,"v":0},{"d":"Personal-social","s":"Female","k":7,"v":0.27},{"d":"Personal-social","s":"Female","k":8,"v":-0.23},{"d":"Personal-social","s":"Female","k":9,"v":0.27},{"d":"Personal-social","s":"Female","k":10,"v":0.18},{"d":"Personal-social","s":"Female","k":11,"v":0.18},{"d":"Personal-social","s":"Female","k":12,"v":0.09},{"d":"Personal-social","s":"Female","k":13,"v":1.1},{"d":"Personal-social","s":"Female","k":14,"v":-0.31},{"d":"Personal-social","s":"Female","k":15,"v":-0.16},{"d":"Personal-social","s":"Female","k":16,"v":-0.08},
{"d":"Personal-social","s":"Female","k":17,"v":0.09},{"d":"Personal-social","s":"Female","k":18,"v":-1.1},{"d":"Personal-social","s":"Female","k":19,"v":0.45},{"d":"Personal-social","s":"Female","k":20,"v":0.09},{"d":"Personal-social","s":"Female","k":21,"v":0.27},{"d":"Personal-social","s":"Female","k":22,"v":0},{"d":"Personal-social","s":"Female","k":23,"v":-0.08},{"d":"Personal-social","s":"Female","k":24,"v":0.54},{"d":"Personal-social","s":"Female","k":25,"v":-0.31},{"d":"Personal-social","s":"Female","k":26,"v":-0.16},{"d":"Personal-social","s":"Female","k":27,"v":0.72},{"d":"Personal-social","s":"Female","k":28,"v":0.09},{"d":"Personal-social","s":"Female","k":29,"v":0.09},{"d":"Personal-social","s":"Female","k":30,"v":-0.47},{"d":"Personal-social","s":"Female","k":31,"v":0},{"d":"Personal-social","s":"Female","k":32,"v":-0.47},{"d":"Personal-social","s":"Female","k":33,"v":-0.78},{"d":"Personal-social","s":"Female","k":34,"v":-0.31},
{"d":"Personal-social","s":"Female","k":35,"v":0.45},{"d":"Personal-social","s":"Female","k":36,"v":0.9},{"d":"Personal-social","s":"Female","k":37,"v":0},{"d":"Personal-social","s":"Female","k":38,"v":-0.08},{"d":"Personal-social","s":"Female","k":39,"v":0},{"d":"Personal-social","s":"Female","k":40,"v":0.72},{"d":"Personal-social","s":"Female","k":41,"v":0},{"d":"Personal-social","s":"Female","k":42,"v":1.45,"t":"*"},{"d":"Personal-social","s":"Female","k":43,"v":0.81},{"d":"Personal-social","s":"Female","k":44,"v":-0.16},{"d":"Personal-social","s":"Female","k":45,"v":-0.54,"t":"*"},{"d":"Personal-social","s":"Female","k":46,"v":0.09},{"d":"Personal-social","s":"Female","k":47,"v":0.09},{"d":"Personal-social","s":"Female","k":48,"v":1.8,"t":"*"},
{"d":"Personal-social","s":"Female","k":49,"v":1.1},{"d":"Personal-social","s":"Female","k":50,"v":1.1},{"d":"Personal-social","s":"Female","k":51,"v":1.1},{"d":"Personal-social","s":"Female","k":52,"v":1.1},{"d":"Personal-social","s":"Female","k":53,"v":0.9},
{"d":"Personal-social","s":"Male","k":0,"v":0.9},{"d":"Personal-social","s":"Male","k":1,"v":0.27},{"d":"Personal-social","s":"Male","k":2,"v":-0.39},{"d":"Personal-social","s":"Male","k":3,"v":-0.08},{"d":"Personal-social","s":"Male","k":4,"v":1.6,"t":"*"},{"d":"Personal-social","s":"Male","k":5,"v":0.72},{"d":"Personal-social","s":"Male","k":6,"v":-0.47},{"d":"Personal-social","s":"Male","k":7,"v":0},{"d":"Personal-social","s":"Male","k":8,"v":-1.1},{"d":"Personal-social","s":"Male","k":9,"v":2.6,"t":"*"},{"d":"Personal-social","s":"Male","k":10,"v":0.72},{"d":"Personal-social","s":"Male","k":11,"v":0.18},{"d":"Personal-social","s":"Male","k":12,"v":0},{"d":"Personal-social","s":"Male","k":13,"v":-0.23},{"d":"Personal-social","s":"Male","k":14,"v":-0.31},{"d":"Personal-social","s":"Male","k":15,"v":0.72},{"d":"Personal-social","s":"Male","k":16,"v":0.72},
{"d":"Personal-social","s":"Male","k":17,"v":0.81},{"d":"Personal-social","s":"Male","k":18,"v":-0.93},{"d":"Personal-social","s":"Male","k":19,"v":-0.16},{"d":"Personal-social","s":"Male","k":20,"v":0.27},{"d":"Personal-social","s":"Male","k":21,"v":0.81},{"d":"Personal-social","s":"Male","k":22,"v":-0.16},{"d":"Personal-social","s":"Male","k":23,"v":0.63},{"d":"Personal-social","s":"Male","k":24,"v":0.54},{"d":"Personal-social","s":"Male","k":25,"v":-0.16},{"d":"Personal-social","s":"Male","k":26,"v":0.81},{"d":"Personal-social","s":"Male","k":27,"v":0.81},{"d":"Personal-social","s":"Male","k":28,"v":-0.23},{"d":"Personal-social","s":"Male","k":29,"v":0.09},{"d":"Personal-social","s":"Male","k":30,"v":-0.23},{"d":"Personal-social","s":"Male","k":31,"v":0.63,"t":"*"},{"d":"Personal-social","s":"Male","k":32,"v":0.81},{"d":"Personal-social","s":"Male","k":33,"v":-0.16},{"d":"Personal-social","s":"Male","k":34,"v":-2.9,"t":"*"},
{"d":"Personal-social","s":"Male","k":35,"v":0.54},{"d":"Personal-social","s":"Male","k":36,"v":0.54},{"d":"Personal-social","s":"Male","k":37,"v":0.09},{"d":"Personal-social","s":"Male","k":38,"v":-0.16},{"d":"Personal-social","s":"Male","k":39,"v":0.9},{"d":"Personal-social","s":"Male","k":40,"v":0.54},{"d":"Personal-social","s":"Male","k":41,"v":0.9},{"d":"Personal-social","s":"Male","k":42,"v":0.36},{"d":"Personal-social","s":"Male","k":43,"v":0.27},{"d":"Personal-social","s":"Male","k":44,"v":0.18},{"d":"Personal-social","s":"Male","k":45,"v":0},{"d":"Personal-social","s":"Male","k":46,"v":1.1,"t":"*"},{"d":"Personal-social","s":"Male","k":47,"v":0.09},{"d":"Personal-social","s":"Male","k":48,"v":1.1},
{"d":"Personal-social","s":"Male","k":49,"v":-0.08},{"d":"Personal-social","s":"Male","k":50,"v":-0.08},{"d":"Personal-social","s":"Male","k":51,"v":-0.08},{"d":"Personal-social","s":"Male","k":52,"v":0},{"d":"Personal-social","s":"Male","k":53,"v":-0.16},
{"d":"Total","s":"All","k":0,"v":-0.03},{"d":"Total","s":"All","k":1,"v":0},{"d":"Total","s":"All","k":2,"v":-0.16},{"d":"Total","s":"All","k":3,"v":0},{"d":"Total","s":"All","k":4,"v":0},{"d":"Total","s":"All","k":5,"v":-0.39},{"d":"Total","s":"All","k":6,"v":-0.31},{"d":"Total","s":"All","k":7,"v":-0.39},{"d":"Total","s":"All","k":8,"v":0},{"d":"Total","s":"All","k":9,"v":0},{"d":"Total","s":"All","k":10,"v":-0.23},{"d":"Total","s":"All","k":11,"v":-0.62,"t":"*"},{"d":"Total","s":"All","k":12,"v":-0.08},{"d":"Total","s":"All","k":13,"v":-0.47},{"d":"Total","s":"All","k":14,"v":-0.85,"t":"*"},{"d":"Total","s":"All","k":15,"v":-0.23},{"d":"Total","s":"All","k":16,"v":-0.03},
{"d":"Total","s":"All","k":17,"v":0},{"d":"Total","s":"All","k":18,"v":-1.1,"t":"*"},{"d":"Total","s":"All","k":19,"v":-0.31},{"d":"Total","s":"All","k":20,"v":-0.08},{"d":"Total","s":"All","k":21,"v":-0.08},{"d":"Total","s":"All","k":22,"v":-0.23},{"d":"Total","s":"All","k":23,"v":0.27},{"d":"Total","s":"All","k":24,"v":-0.08},{"d":"Total","s":"All","k":25,"v":0.18},{"d":"Total","s":"All","k":26,"v":-0.47},{"d":"Total","s":"All","k":27,"v":-0.08},{"d":"Total","s":"All","k":28,"v":-0.31},{"d":"Total","s":"All","k":29,"v":-0.03},{"d":"Total","s":"All","k":30,"v":0.09},{"d":"Total","s":"All","k":31,"v":0.09},{"d":"Total","s":"All","k":32,"v":0.18},{"d":"Total","s":"All","k":33,"v":0},{"d":"Total","s":"All","k":34,"v":-0.78,"t":"*"},
{"d":"Total","s":"All","k":35,"v":0},{"d":"Total","s":"All","k":36,"v":0.36},{"d":"Total","s":"All","k":37,"v":0.04},{"d":"Total","s":"All","k":38,"v":-0.16},{"d":"Total","s":"All","k":39,"v":0.18},{"d":"Total","s":"All","k":40,"v":-0.16},{"d":"Total","s":"All","k":41,"v":0},{"d":"Total","s":"All","k":42,"v":0},{"d":"Total","s":"All","k":43,"v":-0.16},{"d":"Total","s":"All","k":44,"v":0.45},{"d":"Total","s":"All","k":45,"v":-0.31},{"d":"Total","s":"All","k":46,"v":0.27},{"d":"Total","s":"All","k":47,"v":0.18},{"d":"Total","s":"All","k":48,"v":0.45},
{"d":"Total","s":"All","k":49,"v":0},{"d":"Total","s":"All","k":50,"v":-0.16},{"d":"Total","s":"All","k":51,"v":-0.16},{"d":"Total","s":"All","k":52,"v":-0.08},{"d":"Total","s":"All","k":53,"v":-0.16},
{"d":"Total","s":"Female","k":0,"v":0},{"d":"Total","s":"Female","k":1,"v":0},{"d":"Total","s":"Female","k":2,"v":-0.08},{"d":"Total","s":"Female","k":3,"v":0.81},{"d":"Total","s":"Female","k":4,"v":0.18},{"d":"Total","s":"Female","k":5,"v":-0.31},{"d":"Total","s":"Female","k":6,"v":-0.31},{"d":"Total","s":"Female","k":7,"v":-0.23},{"d":"Total","s":"Female","k":8,"v":-0.16},{"d":"Total","s":"Female","k":9,"v":0},{"d":"Total","s":"Female","k":10,"v":-0.08},{"d":"Total","s":"Female","k":11,"v":-0.39},{"d":"Total","s":"Female","k":12,"v":-0.08},{"d":"Total","s":"Female","k":13,"v":-0.08},{"d":"Total","s":"Female","k":14,"v":-0.93,"t":"*"},{"d":"Total","s":"Female","k":15,"v":-0.39},{"d":"Total","s":"Female","k":16,"v":-0.31},
{"d":"Total","s":"Female","k":17,"v":0.27},{"d":"Total","s":"Female","k":18,"v":-2.2,"t":"*"},{"d":"Total","s":"Female","k":19,"v":0},{"d":"Total","s":"Female","k":20,"v":0},{"d":"Total","s":"Female","k":21,"v":0},{"d":"Total","s":"Female","k":22,"v":-0.16},{"d":"Total","s":"Female","k":23,"v":-0.16},{"d":"Total","s":"Female","k":24,"v":0.04},{"d":"Total","s":"Female","k":25,"v":-0.08},{"d":"Total","s":"Female","k":26,"v":-0.47},{"d":"Total","s":"Female","k":27,"v":0.09},{"d":"Total","s":"Female","k":28,"v":-0.08},{"d":"Total","s":"Female","k":29,"v":-0.03},{"d":"Total","s":"Female","k":30,"v":-0.08},{"d":"Total","s":"Female","k":31,"v":0},{"d":"Total","s":"Female","k":32,"v":-0.47},{"d":"Total","s":"Female","k":33,"v":-0.47},{"d":"Total","s":"Female","k":34,"v":-0.47},
{"d":"Total","s":"Female","k":35,"v":0.27},{"d":"Total","s":"Female","k":36,"v":0.63},{"d":"Total","s":"Female","k":37,"v":0},{"d":"Total","s":"Female","k":38,"v":-0.16},{"d":"Total","s":"Female","k":39,"v":-0.08},{"d":"Total","s":"Female","k":40,"v":0.27},{"d":"Total","s":"Female","k":41,"v":-0.08},{"d":"Total","s":"Female","k":42,"v":0.18},{"d":"Total","s":"Female","k":43,"v":0},{"d":"Total","s":"Female","k":44,"v":0},{"d":"Total","s":"Female","k":45,"v":-0.54,"t":"*"},{"d":"Total","s":"Female","k":46,"v":0.09},{"d":"Total","s":"Female","k":47,"v":0.27},{"d":"Total","s":"Female","k":48,"v":1.1},
{"d":"Total","s":"Female","k":49,"v":0.27},{"d":"Total","s":"Female","k":50,"v":0.27},{"d":"Total","s":"Female","k":51,"v":0.36},{"d":"Total","s":"Female","k":52,"v":0.27},{"d":"Total","s":"Female","k":53,"v":0.27},
{"d":"Total","s":"Male","k":0,"v":-0.08},{"d":"Total","s":"Male","k":1,"v":0.09},{"d":"Total","s":"Male","k":2,"v":-0.7},{"d":"Total","s":"Male","k":3,"v":-0.16},{"d":"Total","s":"Male","k":4,"v":0.27},{"d":"Total","s":"Male","k":5,"v":-0.23},{"d":"Total","s":"Male","k":6,"v":-0.39},{"d":"Total","s":"Male","k":7,"v":-0.85},{"d":"Total","s":"Male","k":8,"v":0.36},{"d":"Total","s":"Male","k":9,"v":-0.08},{"d":"Total","s":"Male","k":10,"v":-0.62},{"d":"Total","s":"Male","k":11,"v":-0.93,"t":"*"},{"d":"Total","s":"Male","k":12,"v":-0.08},{"d":"Total","s":"Male","k":13,"v":-0.93},{"d":"Total","s":"Male","k":14,"v":-0.93},{"d":"Total","s":"Male","k":15,"v":-0.08},{"d":"Total","s":"Male","k":16,"v":0.18},
{"d":"Total","s":"Male","k":17,"v":-0.03},{"d":"Total","s":"Male","k":18,"v":-0.16},{"d":"Total","s":"Male","k":19,"v":-0.78,"t":"*"},{"d":"Total","s":"Male","k":20,"v":-0.03},{"d":"Total","s":"Male","k":21,"v":-0.03},{"d":"Total","s":"Male","k":22,"v":-0.16},{"d":"Total","s":"Male","k":23,"v":0.63},{"d":"Total","s":"Male","k":24,"v":-0.03},{"d":"Total","s":"Male","k":25,"v":0.63},{"d":"Total","s":"Male","k":26,"v":-0.08},{"d":"Total","s":"Male","k":27,"v":-0.16},{"d":"Total","s":"Male","k":28,"v":-0.7},{"d":"Total","s":"Male","k":29,"v":-0.08},{"d":"Total","s":"Male","k":30,"v":0.63},{"d":"Total","s":"Male","k":31,"v":0.27},{"d":"Total","s":"Male","k":32,"v":1.6,"t":"*"},{"d":"Total","s":"Male","k":33,"v":0.9},{"d":"Total","s":"Male","k":34,"v":-1.45},
{"d":"Total","s":"Male","k":35,"v":0},{"d":"Total","s":"Male","k":36,"v":0.09},{"d":"Total","s":"Male","k":37,"v":1.25},{"d":"Total","s":"Male","k":38,"v":-0.23},{"d":"Total","s":"Male","k":39,"v":1.1},{"d":"Total","s":"Male","k":40,"v":-1.25,"t":"*"},{"d":"Total","s":"Male","k":41,"v":0.09,"t":"*"},{"d":"Total","s":"Male","k":42,"v":0},{"d":"Total","s":"Male","k":43,"v":-0.23},{"d":"Total","s":"Male","k":44,"v":0.81},{"d":"Total","s":"Male","k":45,"v":0},{"d":"Total","s":"Male","k":46,"v":0.63},{"d":"Total","s":"Male","k":47,"v":0.04},{"d":"Total","s":"Male","k":48,"v":-0.05},
{"d":"Total","s":"Male","k":49,"v":-0.47},{"d":"Total","s":"Male","k":50,"v":-0.54,"t":"*"},{"d":"Total","s":"Male","k":51,"v":-0.62,"t":"*"},{"d":"Total","s":"Male","k":52,"v":-0.54,"t":"*"},{"d":"Total","s":"Male","k":53,"v":-0.54,"t":"*"}
]
},
"data":{"name":"cells"},
"transform":[{"lookup":"k","from":{"data":{"name":"mets"},"key":"k","fields":["m","p"]}}],
"spacing":12,
"hconcat":[
{"transform":[{"filter":{"field":"p","equal":"Cyclooxygenase"}}],
 "facet":{"row":{"field":"d","type":"nominal","title":null,"header":{"labels":false}}},
 "spacing":{"row":16},
 "spec":{"width":{"step":30.5},"height":{"step":43.3},
  "layer":[
   {"mark":{"type":"rect"},
    "encoding":{
     "x":{"field":"m","type":"nominal","sort":{"field":"k","op":"min"},"scale":{"paddingInner":0,"paddingOuter":0.1},"axis":{"orient":"bottom","title":"Cyclooxygenase","titleY":0,"titleBaseline":"middle","titleFontSize":17.5,"titleFontWeight":"normal","titleColor":"#1a1a1a","labels":false,"ticks":false,"domain":true,"domainColor":"#dedede","domainWidth":32,"offset":22,"grid":false}},
     "y":{"field":"s","type":"nominal","sort":["All","Female","Male"],"scale":{"paddingInner":0,"paddingOuter":0.1},"axis":{"orient":"left","title":null,"domain":false,"ticks":true,"tickSize":4,"tickColor":"#333333","labelFontSize":17.5,"labelPadding":10,"grid":false}},
     "color":{"field":"v","type":"quantitative","scale":{"domain":[-4.46,3.44],"domainMid":0,"range":["#6f8fcb","#ffffff","#e2869e"],"interpolate":"lab"},"legend":{"title":"% change","orient":"none","legendX":1770,"legendY":157,"direction":"vertical","gradientLength":573,"gradientThickness":15,"values":[-4,-2,0,2],"labelFontSize":17.5,"titleFontSize":17.5,"titleFontWeight":"normal","titlePadding":11,"labelOffset":14,"labelColor":"#1a1a1a","titleColor":"#1a1a1a","gradientStrokeWidth":0}}}},
   {"transform":[{"filter":{"field":"t","equal":"*"}}],
    "mark":{"type":"text","fontSize":25,"fontWeight":"bold","color":"#000000","baseline":"middle","dy":3},
    "encoding":{
     "x":{"field":"m","type":"nominal","sort":{"field":"k","op":"min"},"axis":{"orient":"bottom","title":null,"domain":false,"grid":false,"ticks":true,"tickSize":6,"tickColor":"#333333","offset":38,"labelAngle":-90,"labelFontSize":18.5,"labelPadding":8,"labelLimit":500}},
     "y":{"field":"s","type":"nominal","sort":["All","Female","Male"],"axis":null},
     "text":{"field":"t"}}}
  ],
  "resolve":{"axis":{"x":"independent","y":"independent"}}}},
{"transform":[{"filter":{"field":"p","equal":"Cytochrome p450"}}],
 "facet":{"row":{"field":"d","type":"nominal","title":null,"header":{"labels":false}}},
 "spacing":{"row":16},
 "spec":{"width":{"step":30.5},"height":{"step":43.3},
  "layer":[
   {"mark":{"type":"rect"},
    "encoding":{
     "x":{"field":"m","type":"nominal","sort":{"field":"k","op":"min"},"scale":{"paddingInner":0,"paddingOuter":0.1},"axis":{"orient":"bottom","title":"Cytochrome p450","titleY":0,"titleBaseline":"middle","titleFontSize":17.5,"titleFontWeight":"normal","titleColor":"#1a1a1a","labels":false,"ticks":false,"domain":true,"domainColor":"#dedede","domainWidth":32,"offset":22,"grid":false}},
     "y":{"field":"s","type":"nominal","sort":["All","Female","Male"],"scale":{"paddingInner":0,"paddingOuter":0.1},"axis":null},
     "color":{"field":"v","type":"quantitative","scale":{"domain":[-4.46,3.44],"domainMid":0,"range":["#6f8fcb","#ffffff","#e2869e"],"interpolate":"lab"},"legend":{"title":"% change","orient":"none","legendX":1770,"legendY":157,"direction":"vertical","gradientLength":573,"gradientThickness":15,"values":[-4,-2,0,2],"labelFontSize":17.5,"titleFontSize":17.5,"titleFontWeight":"normal","titlePadding":11,"labelOffset":14,"labelColor":"#1a1a1a","titleColor":"#1a1a1a","gradientStrokeWidth":0}}}},
   {"transform":[{"filter":{"field":"t","equal":"*"}}],
    "mark":{"type":"text","fontSize":25,"fontWeight":"bold","color":"#000000","baseline":"middle","dy":3},
    "encoding":{
     "x":{"field":"m","type":"nominal","sort":{"field":"k","op":"min"},"axis":{"orient":"bottom","title":null,"domain":false,"grid":false,"ticks":true,"tickSize":6,"tickColor":"#333333","offset":38,"labelAngle":-90,"labelFontSize":18.5,"labelPadding":8,"labelLimit":500}},
     "y":{"field":"s","type":"nominal","sort":["All","Female","Male"],"axis":null},
     "text":{"field":"t"}}}
  ],
  "resolve":{"axis":{"x":"independent","y":"independent"}}}},
{"transform":[{"filter":{"field":"p","equal":"Lipoxygenase"}}],
 "facet":{"row":{"field":"d","type":"nominal","title":null,"header":{"labels":false}}},
 "spacing":{"row":16},
 "spec":{"width":{"step":30.5},"height":{"step":43.3},
  "layer":[
   {"mark":{"type":"rect"},
    "encoding":{
     "x":{"field":"m","type":"nominal","sort":{"field":"k","op":"min"},"scale":{"paddingInner":0,"paddingOuter":0.1},"axis":{"orient":"bottom","title":"Lipoxygenase","titleY":0,"titleBaseline":"middle","titleFontSize":17.5,"titleFontWeight":"normal","titleColor":"#1a1a1a","labels":false,"ticks":false,"domain":true,"domainColor":"#dedede","domainWidth":32,"offset":22,"grid":false}},
     "y":{"field":"s","type":"nominal","sort":["All","Female","Male"],"scale":{"paddingInner":0,"paddingOuter":0.1},"axis":null},
     "color":{"field":"v","type":"quantitative","scale":{"domain":[-4.46,3.44],"domainMid":0,"range":["#6f8fcb","#ffffff","#e2869e"],"interpolate":"lab"},"legend":{"title":"% change","orient":"none","legendX":1770,"legendY":157,"direction":"vertical","gradientLength":573,"gradientThickness":15,"values":[-4,-2,0,2],"labelFontSize":17.5,"titleFontSize":17.5,"titleFontWeight":"normal","titlePadding":11,"labelOffset":14,"labelColor":"#1a1a1a","titleColor":"#1a1a1a","gradientStrokeWidth":0}}}},
   {"transform":[{"filter":{"field":"t","equal":"*"}}],
    "mark":{"type":"text","fontSize":25,"fontWeight":"bold","color":"#000000","baseline":"middle","dy":3},
    "encoding":{
     "x":{"field":"m","type":"nominal","sort":{"field":"k","op":"min"},"axis":{"orient":"bottom","title":null,"domain":false,"grid":false,"ticks":true,"tickSize":6,"tickColor":"#333333","offset":38,"labelAngle":-90,"labelFontSize":18.5,"labelPadding":8,"labelLimit":500}},
     "y":{"field":"s","type":"nominal","sort":["All","Female","Male"],"axis":null},
     "text":{"field":"t"}}}
  ],
  "resolve":{"axis":{"x":"independent","y":"independent"}}}},
{"transform":[{"filter":{"field":"p","equal":"Parent compound"}}],
 "facet":{"row":{"field":"d","type":"nominal","title":null,"header":{"labelOrient":"right","labelAngle":90,"labelPadding":-17,"labelBaseline":"middle","labelAlign":"center","labelFontSize":17.5}}},
 "spacing":{"row":16},
 "spec":{"width":{"step":30.5},"height":{"step":43.3},
  "layer":[
   {"mark":{"type":"rect"},
    "encoding":{
     "x":{"field":"m","type":"nominal","sort":{"field":"k","op":"min"},"scale":{"paddingInner":0,"paddingOuter":0.1},"axis":{"orient":"bottom","title":"Parent compound","titleY":0,"titleBaseline":"middle","titleFontSize":17.5,"titleFontWeight":"normal","titleColor":"#1a1a1a","labels":false,"ticks":false,"domain":true,"domainColor":"#dedede","domainWidth":32,"offset":22,"grid":false}},
     "y":{"field":"s","type":"nominal","sort":["All","Female","Male"],"scale":{"paddingInner":0,"paddingOuter":0.1},"axis":null},
     "color":{"field":"v","type":"quantitative","scale":{"domain":[-4.46,3.44],"domainMid":0,"range":["#6f8fcb","#ffffff","#e2869e"],"interpolate":"lab"},"legend":{"title":"% change","orient":"none","legendX":1770,"legendY":157,"direction":"vertical","gradientLength":573,"gradientThickness":15,"values":[-4,-2,0,2],"labelFontSize":17.5,"titleFontSize":17.5,"titleFontWeight":"normal","titlePadding":11,"labelOffset":14,"labelColor":"#1a1a1a","titleColor":"#1a1a1a","gradientStrokeWidth":0}}}},
   {"transform":[{"filter":{"field":"t","equal":"*"}}],
    "mark":{"type":"text","fontSize":25,"fontWeight":"bold","color":"#000000","baseline":"middle","dy":3},
    "encoding":{
     "x":{"field":"m","type":"nominal","sort":{"field":"k","op":"min"},"axis":{"orient":"bottom","title":null,"domain":false,"grid":false,"ticks":true,"tickSize":6,"tickColor":"#333333","offset":38,"labelAngle":-90,"labelFontSize":18.5,"labelPadding":8,"labelLimit":500}},
     "y":{"field":"s","type":"nominal","sort":["All","Female","Male"],"axis":{"orient":"right","title":null,"labels":false,"ticks":false,"grid":false,"domain":true,"domainColor":"#dedede","domainWidth":34,"offset":19.5}},
     "text":{"field":"t"}}}
  ],
  "resolve":{"axis":{"x":"independent","y":"independent"}}}}
]
}
